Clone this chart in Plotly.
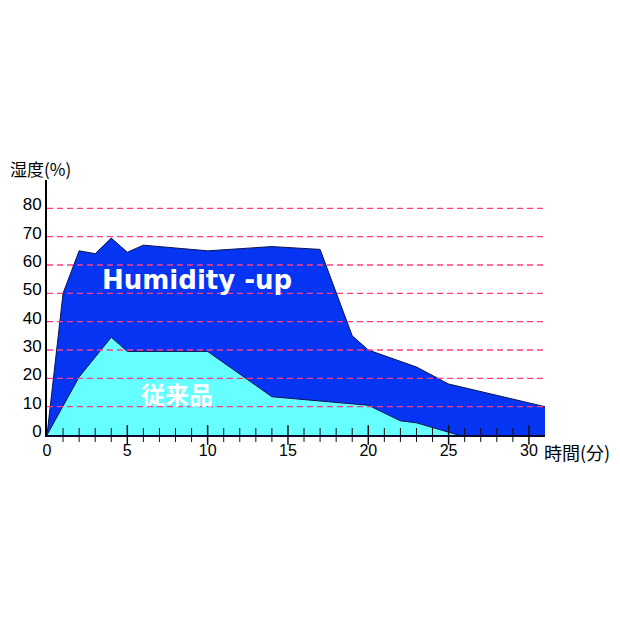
import plotly.graph_objects as go

# humidity over time (minutes)
up_time = [0, 1, 2, 3, 4, 5, 6, 10, 14, 17, 19, 20, 23, 25, 31]
up_humidity = [0, 50, 65, 64, 69.5, 64.5, 67, 65, 66.5, 65.5, 35, 30, 24, 18, 10]

old_time = [0, 2, 4, 5, 10, 14, 20, 22, 23, 25.6]
old_humidity = [0, 20.5, 34.5, 29.5, 29.5, 13.5, 10.5, 5, 4.3, 0]

y_ticks = [0, 10, 20, 30, 40, 50, 60, 70, 80]
x_ticks = [0, 5, 10, 15, 20, 25, 30]

fig = go.Figure()
fig.add_trace(go.Scatter(x=up_time, y=up_humidity, mode='lines', fill='tozeroy',
                         fillcolor='#0535F2', line=dict(color='#0A1450', width=1)))
fig.add_trace(go.Scatter(x=old_time, y=old_humidity, mode='lines', fill='tozeroy',
                         fillcolor='#66FFFF', line=dict(color='#0A1450', width=1)))

# tick marks crossing the x axis
minor = [t for t in range(1, 31) if t % 5 != 0]
major = [t for t in x_ticks if t > 0]
fig.add_trace(go.Scatter(x=minor, y=[0] * len(minor), mode='markers', cliponaxis=False,
                         marker=dict(symbol='line-ns', size=10, line=dict(color='#111', width=1))))
fig.add_trace(go.Scatter(x=major, y=[0] * len(major), mode='markers', cliponaxis=False,
                         marker=dict(symbol='line-ns', size=14, line=dict(color='#111', width=1.5))))

# dashed pink grid lines drawn over the areas
for v in y_ticks[1:]:
    fig.add_shape(type='line', xref='x', yref='y', x0=0, x1=31, y0=v, y1=v, layer='above',
                  line=dict(color='#FF3C82', width=1.3, dash='6px,4px'))

fig.add_annotation(x=9.35, y=54.6, text='<b>Humidity -up</b>', showarrow=False,
                   font=dict(family='DejaVu Sans', size=26, color='white'))
fig.add_annotation(x=8.1, y=14.8, text='<b>従来品</b>', showarrow=False,
                   font=dict(family='Noto Sans CJK JP', size=24, color='white'))
fig.add_annotation(xref='paper', yref='paper', x=-0.078, y=1.047, xanchor='left', yanchor='middle',
                   text='湿度(%)', showarrow=False,
                   font=dict(family='Noto Sans CJK JP', size=17, color='black'))
fig.add_annotation(xref='paper', yref='paper', x=0.994, y=-0.066, xanchor='left', yanchor='middle',
                   text='時間(分)', showarrow=False,
                   font=dict(family='Noto Sans CJK JP', size=18, color='black'))

fig.update_layout(
    width=620, height=620,
    margin=dict(l=39, r=83, t=172, b=193),
    paper_bgcolor='white', plot_bgcolor='white',
    showlegend=False,
    font=dict(family='Liberation Sans', size=16, color='black'),
)
fig.update_xaxes(range=[0, 31], tickvals=x_ticks, showgrid=False, zeroline=False,
                 showline=True, linecolor='#0A0A30', linewidth=2, ticks='',
                 layer='above traces')
fig.update_yaxes(range=[0, 90], tickvals=y_ticks, showgrid=False, zeroline=False,
                 showline=True, linecolor='black', linewidth=2, ticks='',
                 tickfont=dict(size=17), ticklabelshift=-4, layer='above traces')

fig.write_html("out.html")
